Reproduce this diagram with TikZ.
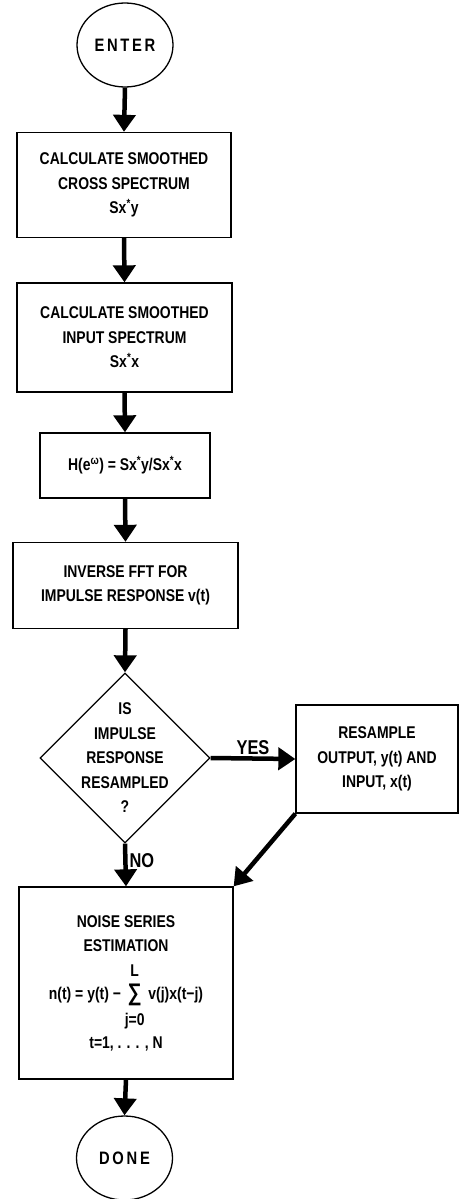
\documentclass[tikz,border=0pt]{standalone}
\usepackage{fontspec}
\setmainfont{Liberation Sans}[FakeStretch=0.82]
\usetikzlibrary{arrows.meta,shapes.geometric}
\newcommand{\sumjL}{\begin{tabular}{@{}c@{}}L\\{\fontsize{24}{24.5}\selectfont ∑}\\j=0\end{tabular}}
\begin{document}
\begin{tikzpicture}[x=1pt,y=-1pt,
    every node/.style={font=\fontsize{17}{24.5}\selectfont\bfseries},
    term/.style={draw,ellipse,line width=1.3pt,minimum width=96pt,minimum height=84pt,inner sep=0pt,
      font=\fontsize{18}{24.5}\selectfont\bfseries\addfontfeature{LetterSpace=15}},
    proc/.style={draw,rectangle,line width=1.3pt,align=center,inner sep=0pt},
    decision/.style={draw,diamond,aspect=1,line width=1.3pt,minimum width=170pt,minimum height=170pt,inner sep=0pt},
    branch/.style={font=\fontsize{20}{22}\selectfont\bfseries,inner sep=2pt},
    flow/.style={line width=4.5pt,-{Triangle[length=17pt,width=22pt]}}]
    \useasboundingbox (0,0) rectangle (460,1199);
    \node [term] (enter) at (125,45) {ENTER};
    \node [proc,minimum width=214pt,minimum height=105pt] (xspec) at (124,185) {CALCULATE SMOOTHED\\CROSS SPECTRUM\\Sx\textsuperscript{*}y};
    \node [proc,minimum width=215pt,minimum height=109pt] (inspec) at (124.5,337.5) {CALCULATE SMOOTHED\\INPUT SPECTRUM\\Sx\textsuperscript{*}x};
    \node [proc,minimum width=170pt,minimum height=65pt] (hfun) at (125,465.5) {H(e\textsuperscript{ω}) = Sx\textsuperscript{*}y/Sx\textsuperscript{*}x};
    \node [proc,minimum width=225pt,minimum height=86pt] (ifft) at (125.5,585.5) {INVERSE FFT FOR\\IMPULSE RESPONSE v(t)};
    \node [decision] (dec) at (125,758) {};
    \node [align=center] (dectext) at (dec) {IS\\IMPULSE\\RESPONSE\\RESAMPLED\\?};
    \node [proc,minimum width=162pt,minimum height=108pt] (resamp) at (377,759) {RESAMPLE\\OUTPUT, y(t) AND\\INPUT, x(t)};
    \node [proc,minimum width=214pt,minimum height=192pt] (noise) at (126,983) {NOISE SERIES\\ESTIMATION\\[6pt]n(t) = y(t) − \sumjL{} v(j)x(t−j)\\[3pt]t=1, . . . , N};
    \node [term] (done) at (124.5,1158) {DONE};
    \draw [flow] (enter.south) -- (xspec.north);
    \draw [flow] (xspec.south) -- (inspec.north);
    \draw [flow] (inspec.south) -- (hfun.north);
    \draw [flow] (hfun.south) -- (ifft.north);
    \draw [flow] (ifft.south) -- (dec.north);
    \draw [flow] (dec.east) -- (resamp.west) node [branch,midway,above] (yes) {YES};
    \draw [flow] (dec.south) -- (noise.north) node [branch,pos=0.4,right] (no) {NO};
    \draw [flow] (resamp.south west) -- (noise.north east);
    \draw [flow] (noise.south) -- (done.north);
\end{tikzpicture}
\end{document}
